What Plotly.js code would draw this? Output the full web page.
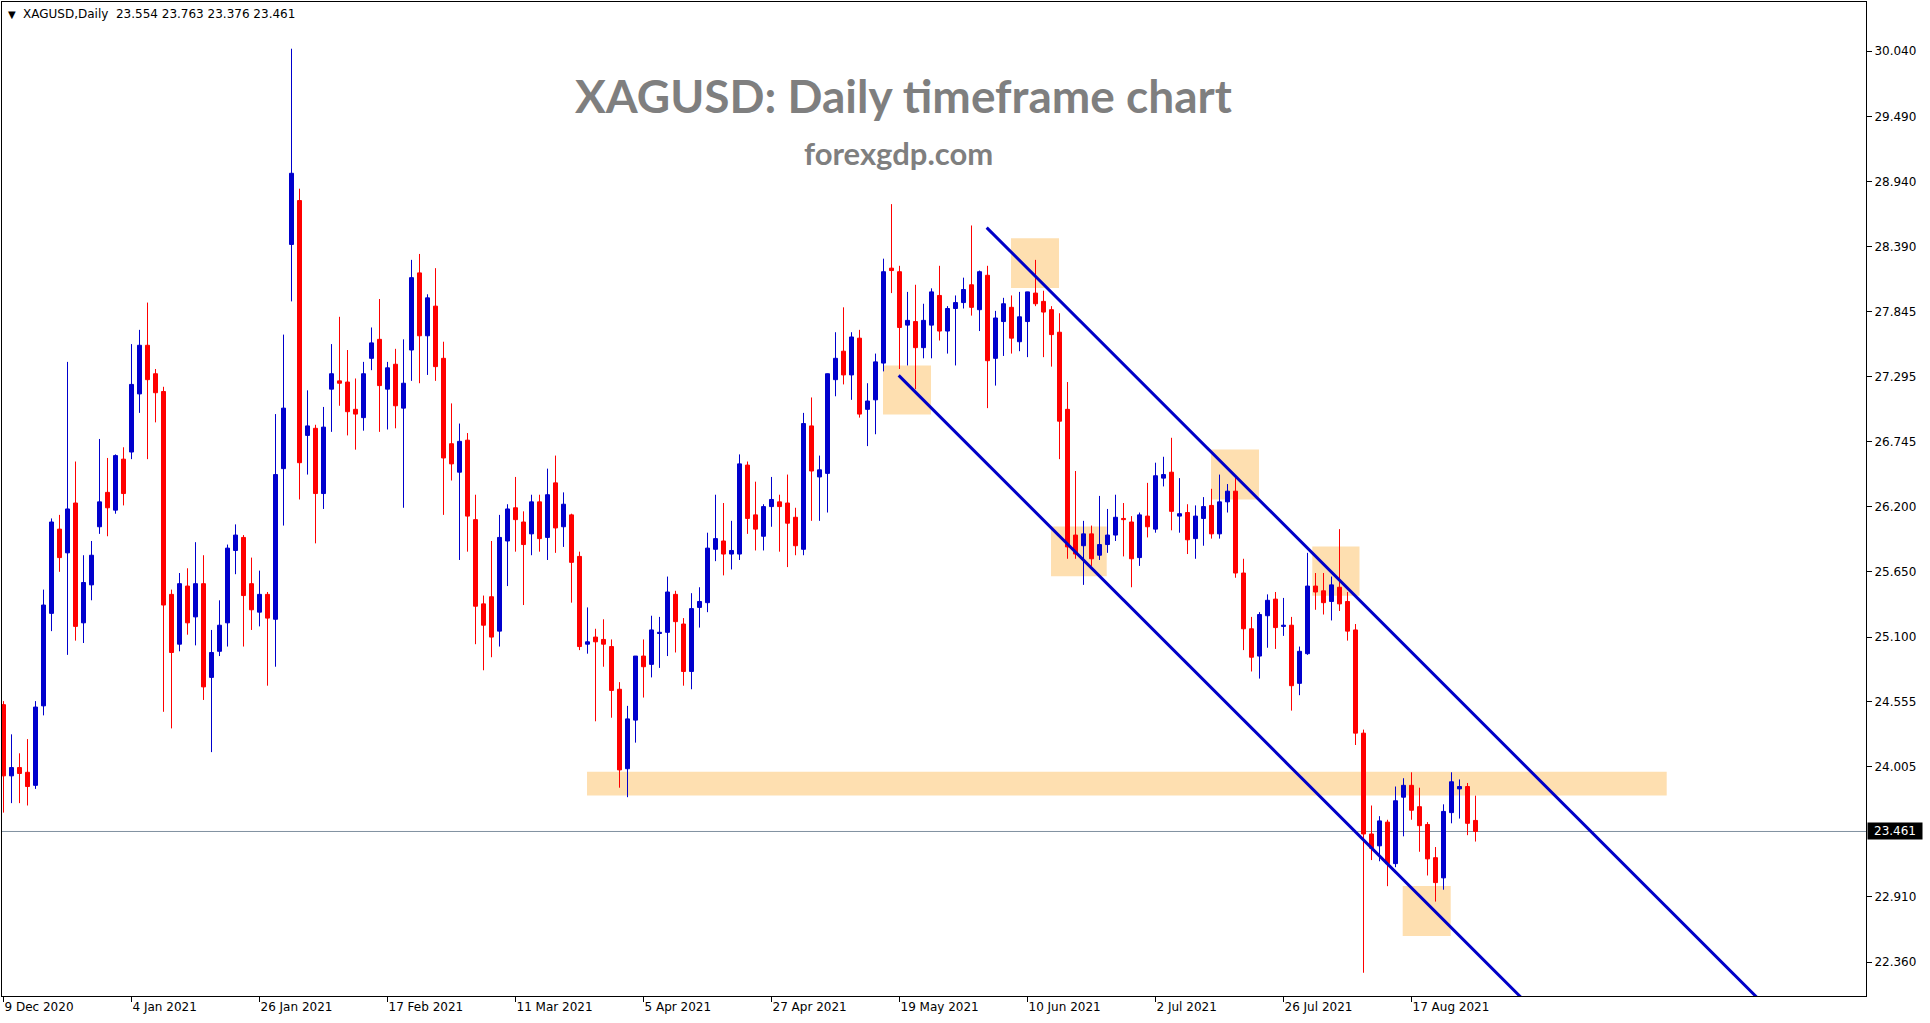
<!DOCTYPE html>
<html>
<head>
<meta charset="utf-8">
<script src="https://cdn.plot.ly/plotly-3.0.1.min.js"></script>
<style>
html,body{margin:0;padding:0;background:#ffffff;}
#chart{width:1930px;height:1023px;}
</style>
</head>
<body>
<div id="chart"></div>
<script>
// ---- Daily OHLC of XAGUSD, 9 Dec 2020 .. 27 Aug 2021 ----
const openP = [
24.53,23.93,24.00,23.96,23.85,24.52,25.30,26.01,25.81,26.23,
25.22,25.54,26.03,26.32,26.17,26.60,26.66,27.15,27.56,27.32,
27.17,25.46,25.04,25.53,25.27,25.55,24.76,24.98,25.22,25.83,
25.94,25.55,25.31,25.46,25.25,26.52,28.41,28.78,26.80,26.86,
26.31,27.19,27.26,27.25,27.02,26.95,27.45,27.61,27.19,27.40,
27.03,27.52,28.17,27.64,27.89,27.45,26.73,26.49,26.76,26.09,
25.38,25.44,25.15,25.91,26.19,26.07,25.97,26.24,25.94,26.40,
26.03,26.13,25.78,25.04,25.10,25.08,25.02,24.66,23.99,24.40,
24.94,24.87,25.13,25.14,25.46,25.21,24.81,25.35,25.39,25.84,
25.91,25.80,25.80,26.55,26.13,25.95,26.20,26.24,26.23,26.11,
25.84,26.88,26.45,26.48,27.27,27.51,27.31,27.62,27.02,27.10,
27.41,28.21,28.18,27.73,27.76,27.54,27.73,27.98,27.68,27.87,
27.92,28.07,27.86,28.15,27.45,27.76,27.88,27.59,27.76,28.00,
27.93,27.86,27.67,27.02,25.96,25.87,25.97,25.79,25.88,25.96,
26.10,26.07,25.77,26.12,26.01,26.44,26.49,26.12,26.15,25.93,
26.10,26.21,25.97,26.24,26.33,25.64,25.17,24.94,25.28,25.42,
25.19,25.20,24.71,24.96,25.53,25.49,25.40,25.52,25.40,25.16,
24.29,23.44,23.34,23.54,23.19,23.75,23.85,23.67,23.52,23.24,
23.07,23.62,23.82,23.84,23.554
];
const highP = [
24.56,24.28,24.12,24.24,24.56,25.50,26.10,26.13,27.42,26.58,
25.79,25.91,26.77,26.61,26.64,26.70,27.57,27.69,27.92,27.36,
27.21,25.50,25.64,25.68,25.90,25.79,25.16,25.41,25.88,26.05,
25.96,25.77,25.66,25.48,26.98,27.65,30.06,28.88,27.18,26.89,
27.04,27.57,27.80,27.52,27.28,27.42,27.71,27.95,27.42,27.53,
27.61,28.28,28.33,27.99,28.21,27.59,27.07,26.90,26.82,26.30,
25.45,25.91,26.13,26.22,26.45,26.16,26.30,26.30,26.52,26.63,
26.32,26.14,25.82,25.35,25.17,25.25,25.08,24.72,24.52,24.94,
25.08,25.28,25.27,25.61,25.49,25.26,25.47,25.52,25.98,26.30,
26.23,26.08,26.64,26.58,26.41,26.22,26.45,26.30,26.47,26.19,
26.99,27.12,26.63,27.32,27.67,27.88,27.67,27.69,27.24,27.49,
28.29,28.75,28.23,28.01,28.07,27.91,28.04,28.23,27.89,27.98,
28.13,28.57,28.19,28.23,27.85,27.96,27.98,28.01,28.01,28.28,
28.02,27.89,27.83,27.25,26.50,26.08,26.04,26.29,26.18,26.30,
26.23,26.12,26.15,26.40,26.57,26.62,26.78,26.44,26.22,26.21,
26.28,26.35,26.47,26.39,26.45,25.76,25.27,25.31,25.46,25.48,
25.43,25.27,25.02,25.81,25.64,25.64,25.61,26.01,25.48,25.21,
24.32,23.68,23.59,23.56,23.84,23.91,23.96,23.83,23.54,23.33,
23.69,23.96,23.90,23.87,23.763
];
const lowP = [
23.62,23.70,23.70,23.68,23.82,24.44,25.15,25.65,24.95,25.07,
25.05,25.41,25.97,25.95,26.14,26.21,26.60,26.99,26.60,26.91,
24.47,24.33,24.98,25.12,25.03,24.57,24.13,24.94,25.02,25.63,
25.02,25.16,25.19,24.69,24.85,26.04,27.93,26.26,26.47,25.89,
26.18,26.83,27.05,26.80,26.68,26.84,27.35,26.83,26.85,26.86,
26.19,27.26,27.24,27.31,27.26,26.13,26.42,25.75,25.82,25.04,
24.82,24.93,25.02,25.53,25.82,25.37,25.79,25.82,25.75,25.81,
25.86,25.39,24.99,24.96,24.39,24.85,24.42,23.83,23.75,24.21,
24.59,24.76,24.84,24.94,24.97,24.69,24.66,25.18,25.31,25.74,
25.62,25.67,25.75,25.97,25.83,25.83,26.03,25.82,25.69,25.79,
25.79,26.08,26.08,26.15,27.13,27.23,27.10,26.95,26.71,26.81,
27.34,28.00,27.36,27.39,27.19,27.45,27.45,27.60,27.49,27.39,
27.87,27.81,27.68,27.03,27.22,27.47,27.49,27.51,27.46,27.89,
27.46,27.38,26.60,25.76,25.76,25.54,25.70,25.75,25.81,25.91,
25.78,25.52,25.70,25.94,25.98,26.37,26.00,25.98,25.80,25.76,
25.87,25.93,25.93,26.15,25.60,24.99,24.81,24.75,25.01,25.00,
25.11,24.48,24.61,24.95,25.33,25.29,25.24,25.32,25.07,24.19,
22.27,23.22,23.21,23.00,23.16,23.42,23.56,23.29,23.09,22.87,
22.97,23.53,23.57,23.43,23.376
];
const closeP = [
23.93,24.00,23.95,23.84,24.51,25.37,26.07,25.77,26.18,25.19,
25.56,25.79,26.24,26.19,26.63,26.31,27.23,27.56,27.27,27.16,
25.37,24.97,25.55,25.22,25.55,24.68,24.97,25.20,25.85,25.96,
25.45,25.33,25.46,25.26,26.47,27.03,29.01,26.57,26.88,26.31,
26.87,27.32,27.24,27.00,26.98,27.32,27.58,27.22,27.37,27.05,
27.24,28.13,27.64,27.96,27.38,26.61,26.56,26.75,26.12,25.36,
25.20,25.10,25.94,26.18,26.09,25.88,26.24,25.93,26.30,26.02,
26.22,25.73,25.02,25.06,25.06,25.04,24.65,23.98,24.41,24.94,
24.85,25.16,25.14,25.48,25.23,24.81,25.34,25.40,25.85,25.93,
25.80,25.83,26.56,26.10,26.01,26.20,26.26,26.20,26.06,25.87,
26.90,26.50,26.51,27.32,27.45,27.31,27.63,26.98,27.09,27.42,
28.18,28.19,27.71,27.77,27.54,27.77,28.01,27.68,27.87,27.92,
28.03,27.88,28.18,27.43,27.79,27.91,27.62,27.80,28.01,27.91,
27.84,27.65,26.92,25.86,25.80,25.97,25.76,25.88,25.96,26.11,
26.09,25.76,26.13,26.03,26.46,26.47,26.16,26.14,25.92,26.12,
26.20,25.97,26.24,26.33,25.64,25.17,24.93,25.29,25.41,25.18,
25.20,24.69,24.98,25.53,25.48,25.39,25.54,25.38,25.15,24.29,
23.44,23.32,23.55,23.19,23.72,23.85,23.64,23.51,23.23,23.03,
23.63,23.88,23.84,23.53,23.461
];

// x-axis labels (every 16th bar)
const tickIdx = [0,16,32,48,64,80,96,112,128,144,160,176];
const tickLabels = ['9 Dec 2020','4 Jan 2021','26 Jan 2021','17 Feb 2021','11 Mar 2021','5 Apr 2021',
                    '27 Apr 2021','19 May 2021','10 Jun 2021','2 Jul 2021','26 Jul 2021','17 Aug 2021'];
// price-scale labels
const priceTicks = [30.040,29.490,28.940,28.390,27.845,27.295,26.745,26.200,25.650,25.100,24.555,24.005,22.910,22.360];
const lastPrice = 23.461;
const headerText = 'XAGUSD,Daily  23.554 23.763 23.376 23.461';
const titleText = 'XAGUSD: Daily timeframe chart';
const subtitleText = 'forexgdp.com';

// highlighted zones (bar index / price)
const zoneX0 = [72.94, 125.94, 109.94, 130.94, 150.94, 163.6, 174.9];
const zoneX1 = [207.9, 131.94, 115.94, 137.9, 156.94, 169.5, 180.9];
const zoneY0 = [23.765, 28.043, 26.977, 25.612, 26.259, 25.449, 22.580];
const zoneY1 = [23.965, 28.462, 27.390, 26.032, 26.681, 25.863, 23.002];

// descending channel lines (bar index / price anchor points)
const upperLineX = [122.9, 220.0];
const upperLineY = [28.552, 22.007];
const lowerLineX = [111.9, 190.5];
const lowerLineY = [27.306, 22.008];

// ---- build traces ----
const BLUE = '#0000CD', RED = '#FF0000';
const upX=[], upBase=[], upH=[], dnX=[], dnBase=[], dnH=[];
const upWx=[], upWy=[], dnWx=[], dnWy=[];
openP.forEach((o, i) => {
  const c = closeP[i];
  const lo = Math.min(o, c);
  const h = Math.max(Math.abs(c - o), 0.004);
  if (c >= o) {
    upX.push(i); upBase.push(lo); upH.push(h);
    upWx.push(i, i, null); upWy.push(lowP[i], highP[i], null);
  } else {
    dnX.push(i); dnBase.push(lo); dnH.push(h);
    dnWx.push(i, i, null); dnWy.push(lowP[i], highP[i], null);
  }
});

const traces = [
  {type:'scatter', mode:'lines', x:upWx, y:upWy, line:{color:BLUE, width:1}, hoverinfo:'skip', connectgaps:false},
  {type:'scatter', mode:'lines', x:dnWx, y:dnWy, line:{color:RED, width:1}, hoverinfo:'skip', connectgaps:false},
  {type:'bar', x:upX, y:upH, base:upBase, width:0.5, marker:{color:BLUE, line:{color:BLUE, width:1}}, hoverinfo:'skip'},
  {type:'bar', x:dnX, y:dnH, base:dnBase, width:0.5, marker:{color:RED, line:{color:RED, width:1}}, hoverinfo:'skip'},
  {type:'scatter', mode:'lines', x:upperLineX, y:upperLineY, line:{color:'#0000C8', width:3}, hoverinfo:'skip'},
  {type:'scatter', mode:'lines', x:lowerLineX, y:lowerLineY, line:{color:'#0000C8', width:3}, hoverinfo:'skip'}
];

const shapes = zoneX0.map((x0, k) => ({
  type:'rect', xref:'x', yref:'y', x0:x0, x1:zoneX1[k], y0:zoneY0[k], y1:zoneY1[k],
  fillcolor:'#FEDFB0', line:{width:0}, layer:'below'
}));
shapes.push({type:'line', xref:'paper', yref:'y', x0:0, x1:1, y0:lastPrice, y1:lastPrice,
             line:{color:'#8090A0', width:1}, layer:'below'});

const axisFont = {family:'DejaVu Sans, Verdana, sans-serif', size:12, color:'#000000'};

const layout = {
  width:1930, height:1023,
  margin:{l:2, r:64, t:2, b:27, pad:0},
  paper_bgcolor:'#ffffff', plot_bgcolor:'#ffffff',
  showlegend:false, barmode:'overlay', bargap:0,
  xaxis:{
    range:[-0.1875, 232.8125], tickmode:'array', tickvals:tickIdx, ticktext:tickLabels,
    ticks:'outside', ticklen:5, tickwidth:1, tickcolor:'#000000',
    ticklabelposition:'outside right',
    showline:true, linecolor:'#000000', linewidth:1, mirror:true,
    showgrid:false, zeroline:false, tickfont:axisFont, fixedrange:true
  },
  yaxis:{
    side:'right', range:[22.074, 30.454], tickmode:'array', tickvals:priceTicks,
    tickformat:'.3f', ticks:'outside', ticklen:5, tickwidth:1, tickcolor:'#000000',
    showline:true, linecolor:'#000000', linewidth:1, mirror:true,
    showgrid:false, zeroline:false, tickfont:axisFont, fixedrange:true
  },
  shapes:shapes,
  annotations:[
    {xref:'paper', yref:'paper', x:0, y:1, xanchor:'left', yanchor:'top', xshift:4, yshift:-5,
     text:'▼', showarrow:false, font:{family:'DejaVu Sans', size:10, color:'#000000'}},
    {xref:'paper', yref:'paper', x:0, y:1, xanchor:'left', yanchor:'top', xshift:19, yshift:-3,
     text:headerText.replace(/ /g,'&nbsp;'), showarrow:false, font:axisFont},
    {xref:'paper', yref:'paper', x:0.4839, y:0.9063, xanchor:'center', yanchor:'middle',
     text:titleText, showarrow:false, font:{family:'Lato, Open Sans, sans-serif', size:46, weight:700, color:'#7F7F7F'}},
    {xref:'paper', yref:'paper', x:0.4807, y:0.848, xanchor:'center', yanchor:'middle',
     text:subtitleText, showarrow:false, font:{family:'Lato, Open Sans, sans-serif', size:31, weight:700, color:'#7F7F7F'}},
    {xref:'paper', yref:'y', x:1, y:lastPrice, xanchor:'left', yanchor:'middle', xshift:1,
     text:lastPrice.toFixed(3), showarrow:false, bgcolor:'#000000', borderpad:1, width:52, height:14,
     font:{family:'DejaVu Sans, Verdana, sans-serif', size:12, color:'#FFFFFF'}}
  ]
};

Plotly.newPlot('chart', traces, layout, {displayModeBar:false, staticPlot:true});
</script>
</body>
</html>
